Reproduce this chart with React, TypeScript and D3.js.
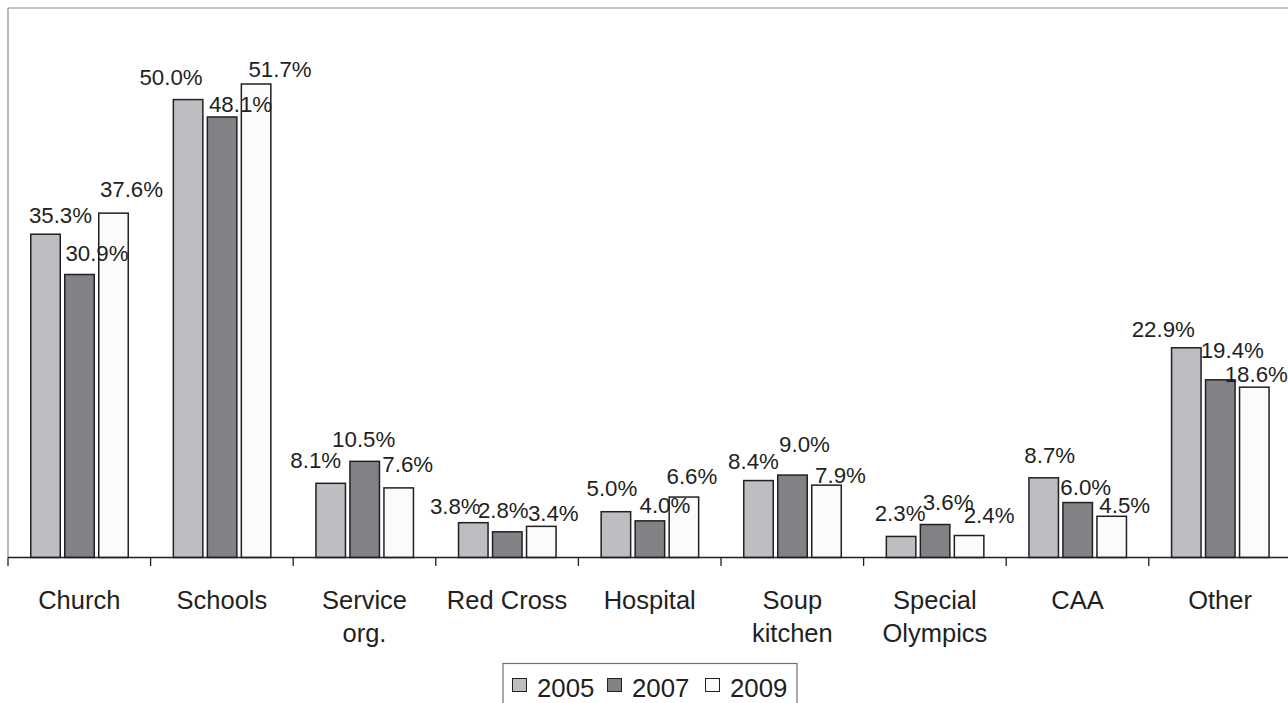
import React from "react";
import * as d3 from "d3";

const categories = ["Church", "Schools", "Service\norg.", "Red Cross", "Hospital", "Soup\nkitchen", "Special\nOlympics", "CAA", "Other"];
const years = ["2005", "2007", "2009"];
const values2005 = [35.3, 50.0, 8.1, 3.8, 5.0, 8.4, 2.3, 8.7, 22.9];
const values2007 = [30.9, 48.1, 10.5, 2.8, 4.0, 9.0, 3.6, 6.0, 19.4];
const values2009 = [37.6, 51.7, 7.6, 3.4, 6.6, 7.9, 2.4, 4.5, 18.6];
const seriesValues = [values2005, values2007, values2009];

// label nudges [dx, dy] relative to bar centre / default baseline (layout only)
const labelNudges = [
  [[15, 1], [17.5, -2], [18, -4.5]],
  [[-17, -2.5], [18.5, 7], [24, 4.5]],
  [[-15, -3], [-1, -2], [9, -4]],
  [[-18, 3.5], [-4, -2], [12, 7]],
  [[-4, -3.5], [15, 4.5], [8, -1]],
  [[-5, 0], [12, -11], [14, 10]],
  [[-1, -3.5], [13, -2.5], [20, -1]],
  [[6, -2.5], [8, 4.5], [13, 8.5]],
  [[-23, 1], [12, -9.5], [2, 6.5]],
];

const W = 1288;
const H = 703;
const fills = ["#bdbec2", "#808285", "#fbfbfb"];
const ink = "#231f20";
const font = "'Liberation Sans', Arial, sans-serif";

export default function App() {
  const step = 142.6;
  const left = 8;
  const top = 8;
  const base = 557.5;
  const x0 = d3.scaleBand<string>().domain(categories).range([left, left + categories.length * step]).padding(0);
  const x1 = d3.scaleBand<string>().domain(years).range([22, 121]).paddingInner(3 / 34).paddingOuter(0);
  const y = d3.scaleLinear().domain([0, 60]).range([base, top]);
  const ticks = d3.range(categories.length + 1).map((i) => left + i * x0.step());

  const legendX = 503;
  const legendY = 663.5;
  const legendItemX = [512, 607, 705];

  return (
    <svg width={W} height={H} style={{ position: "absolute", left: 0, top: 0, background: "#fff" }} fontFamily={font}>
      <rect x={0} y={0} width={W} height={H} fill="#fff" />
      {/* plot area border */}
      <line x1={left} y1={top} x2={W} y2={top} stroke="#8c8c8c" strokeWidth={1.2} />
      <line x1={left} y1={top} x2={left} y2={base} stroke="#8c8c8c" strokeWidth={1.2} />

      {/* bars */}
      {categories.map((c, ci) =>
        years.map((yr, si) => {
          const v = seriesValues[si][ci];
          const bx = (x0(c) as number) + (x1(yr) as number);
          const bw = x1.bandwidth();
          return (
            <rect key={c + yr} x={bx + 0.75} y={y(v)} width={bw - 1.5} height={base - y(v)} fill={fills[si]} stroke={ink} strokeWidth={1.5} />
          );
        })
      )}

      {/* axis */}
      <line x1={left} y1={base} x2={W} y2={base} stroke={ink} strokeWidth={1.3} />
      {ticks.map((t, i) => (
        <line key={i} x1={t} y1={base} x2={t} y2={base + 8.5} stroke={ink} strokeWidth={1.3} />
      ))}

      {/* value labels */}
      {categories.map((c, ci) =>
        years.map((yr, si) => {
          const v = seriesValues[si][ci];
          const cx = (x0(c) as number) + (x1(yr) as number) + x1.bandwidth() / 2;
          const [dx, dy] = labelNudges[ci][si];
          return (
            <text key={"l" + c + yr} x={cx + dx} y={y(v) - 12 + dy} textAnchor="middle" fontSize={22.3} fill={ink}>
              {v.toFixed(1) + "%"}
            </text>
          );
        })
      )}

      {/* category labels */}
      {categories.map((c) => {
        const cx = (x0(c) as number) + x0.bandwidth() / 2;
        return (
          <text key={"c" + c} x={cx} y={608.5} textAnchor="middle" fontSize={25.5} fill={ink}>
            {c.split("\n").map((ln, li) => (
              <tspan key={li} x={cx} dy={li === 0 ? 0 : 33.5}>
                {ln}
              </tspan>
            ))}
          </text>
        );
      })}

      {/* legend */}
      <rect x={legendX} y={legendY} width={294} height={60} fill="#fff" stroke="#6d6e71" strokeWidth={1.2} />
      {years.map((yr, si) => (
        <g key={"lg" + yr}>
          <rect x={legendItemX[si] + 0.5} y={678.5} width={14} height={13} fill={fills[si]} stroke={ink} strokeWidth={1} />
          <text x={legendItemX[si] + 25} y={697} fontSize={25.8} fill={ink}>
            {yr}
          </text>
        </g>
      ))}
    </svg>
  );
}
